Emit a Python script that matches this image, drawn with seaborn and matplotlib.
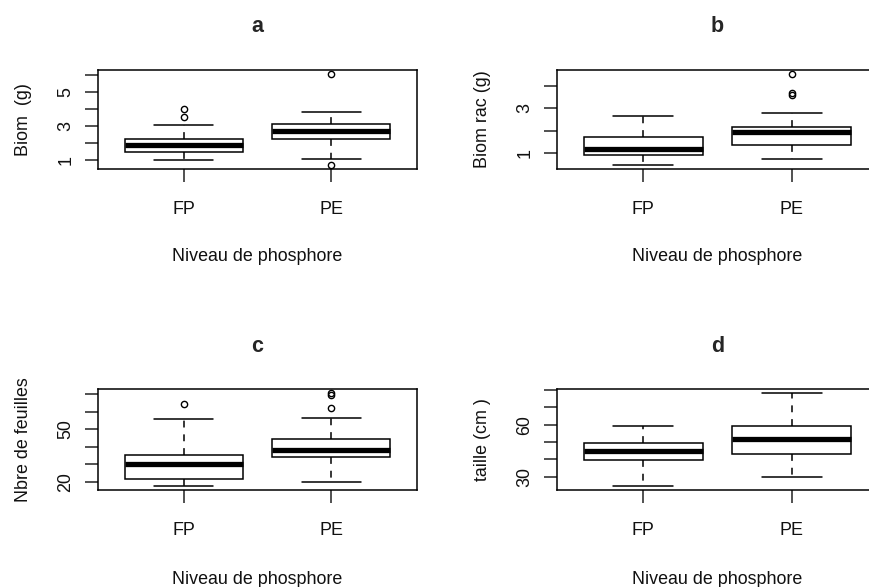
import numpy as np
import pandas as pd
import matplotlib
matplotlib.use("Agg")
import matplotlib.pyplot as plt
import seaborn as sns

# ---------------- data ----------------
categories = ["FP", "PE"]

biom_FP = [1.0, 1.42, 1.42, 1.42, 1.85, 1.85, 1.85, 2.21, 2.21, 2.21, 3.05, 3.52, 3.98]
biom_PE = [0.66, 1.05, 2.19, 2.70, 2.70, 3.09, 3.09, 3.82, 6.08]

rac_FP = [0.43, 0.88, 1.15, 1.70, 2.65]
rac_PE = [0.71, 1.35, 1.35, 1.35, 1.35, 1.92, 1.92, 1.92, 1.92,
          2.18, 2.18, 2.18, 2.18, 2.81, 3.6, 3.7, 4.57]

feuilles_FP = [17.5, 21.8, 21.8, 30, 30, 35.5, 35.5, 56, 64.5]
feuilles_PE = [20, 34, 34, 34, 34, 38.1, 38.1, 38.1, 38.1,
               44.4, 44.4, 44.4, 44.4, 56.4, 62, 69.2, 70.7]

taille_FP = [24.5, 39.4, 45.1, 49.4, 59.1]
taille_PE = [30, 42.9, 51.8, 59.1, 78.5]

titles = ["a", "b", "c", "d"]
ylabels = ["Biom  (g)", "Biom rac (g)", "Nbre de feuilles", "taille (cm )"]
xlabel = "Niveau de phosphore"

yticks_a = [1, 2, 3, 4, 5, 6]
yticklabels_a = ["1", "", "3", "", "5", ""]
yticks_b = [1, 2, 3, 4]
yticklabels_b = ["1", "", "3", ""]
yticks_c = [20, 30, 40, 50, 60, 70]
yticklabels_c = ["20", "", "", "50", "", ""]
yticks_d = [30, 40, 50, 60, 70, 80]
yticklabels_d = ["30", "", "", "60", "", ""]

# ---------------- style ----------------
sns.set_theme(style="white")
plt.rcParams["font.family"] = ["Liberation Sans", "DejaVu Sans"]
plt.rcParams["axes.edgecolor"] = "black"

W, H = 870, 587
fig = plt.figure(figsize=(W / 100, H / 100), dpi=100)

def frac(left, top, right, bottom):
    return [left / W, 1 - bottom / H, (right - left) / W, (bottom - top) / H]

panels = [
    (biom_FP, biom_PE, yticks_a, yticklabels_a, frac(98, 70, 417, 169)),
    (rac_FP, rac_PE, yticks_b, yticklabels_b, frac(557, 70, 878, 169)),
    (feuilles_FP, feuilles_PE, yticks_c, yticklabels_c, frac(98, 389, 417, 490)),
    (taille_FP, taille_PE, yticks_d, yticklabels_d, frac(557, 389, 878, 490)),
]

FS = 12.9
for i, (fp, pe, yt, ytl, pos) in enumerate(panels):
    ax = fig.add_axes(pos)
    df = pd.DataFrame({
        "groupe": [categories[0]] * len(fp) + [categories[1]] * len(pe),
        "valeur": list(fp) + list(pe),
    })
    sns.boxplot(
        data=df, x="groupe", y="valeur", order=categories, ax=ax,
        color="white", linecolor="black", linewidth=1.1, width=0.8,
        whis=1.5,
        whiskerprops=dict(linestyle=(0, (4.5, 4.5))),
        medianprops=dict(linewidth=3.8, color="black", solid_capstyle="butt"),
        flierprops=dict(marker="o", markersize=4.5, markerfacecolor="none",
                        markeredgecolor="black", markeredgewidth=1.0),
    )
    allv = np.array(list(fp) + list(pe))
    r = allv.max() - allv.min()
    ax.set_ylim(allv.min() - 0.04 * r, allv.max() + 0.04 * r)
    ax.set_xlim(-0.58, 1.58)

    ax.set_yticks(yt)
    ax.set_yticklabels(ytl, rotation=90, va="center", fontsize=FS)
    ax.set_xticks([0, 1])
    ax.set_xticklabels(categories, fontsize=FS)
    ax.tick_params(axis="both", direction="out", length=9.4, width=1.1,
                   color="#222222", labelcolor="#111111")
    ax.tick_params(axis="x", bottom=True, top=False, pad=13.5)
    ax.tick_params(axis="y", left=True, right=False, pad=7.5)
    for s in ax.spines.values():
        s.set_visible(True)
        s.set_linewidth(1.1)
        s.set_color("black")

    ax.set_title(titles[i], fontsize=15.5, fontweight="bold", pad=27)
    ax.set_xlabel(xlabel, fontsize=FS, color="#111111")
    ax.set_ylabel(ylabels[i], fontsize=FS, color="#111111")
    ax.xaxis.set_label_coords(0.5, -0.80)
    ax.yaxis.set_label_coords(-66 / 319, 0.5)

fig.savefig("out.png", dpi=100)
